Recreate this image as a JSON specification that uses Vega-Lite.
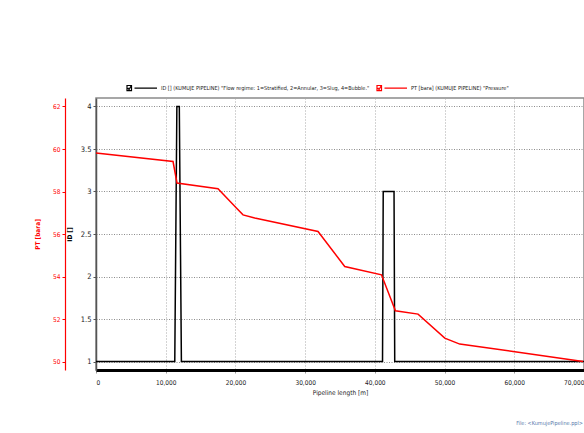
{
  "$schema": "https://vega.github.io/schema/vega-lite/v6.json",
  "width": 488,
  "height": 272,
  "autosize": {"type": "none"},
  "padding": {"left": 96, "top": 98, "right": 0, "bottom": 63},
  "background": "white",
  "config": {
    "font": "DejaVu Sans Condensed, DejaVu Sans, sans-serif",
    "view": {"stroke": "#8a8a8a", "strokeWidth": 1.5},
    "axis": {"labelFont": "DejaVu Sans Condensed, DejaVu Sans, sans-serif", "titleFont": "DejaVu Sans Condensed, DejaVu Sans, sans-serif"}
  },
  "title": {
    "text": "File: <KumujePipeline.ppl>",
    "orient": "bottom",
    "anchor": "end",
    "fontSize": 5.5,
    "fontWeight": "normal",
    "color": "#5577aa",
    "offset": 25,
    "dx": -4
  },
  "datasets": {
    "regime": [
      {"length": 0, "regime": 1, "series": "ID [] (KUMUJE PIPELINE) \"Flow regime: 1=Stratified, 2=Annular, 3=Slug, 4=Bubble.\""},
      {"length": 11300, "regime": 1, "series": "ID [] (KUMUJE PIPELINE) \"Flow regime: 1=Stratified, 2=Annular, 3=Slug, 4=Bubble.\""},
      {"length": 11600, "regime": 4, "series": "ID [] (KUMUJE PIPELINE) \"Flow regime: 1=Stratified, 2=Annular, 3=Slug, 4=Bubble.\""},
      {"length": 11950, "regime": 4, "series": "ID [] (KUMUJE PIPELINE) \"Flow regime: 1=Stratified, 2=Annular, 3=Slug, 4=Bubble.\""},
      {"length": 12250, "regime": 1, "series": "ID [] (KUMUJE PIPELINE) \"Flow regime: 1=Stratified, 2=Annular, 3=Slug, 4=Bubble.\""},
      {"length": 41100, "regime": 1, "series": "ID [] (KUMUJE PIPELINE) \"Flow regime: 1=Stratified, 2=Annular, 3=Slug, 4=Bubble.\""},
      {"length": 41200, "regime": 3, "series": "ID [] (KUMUJE PIPELINE) \"Flow regime: 1=Stratified, 2=Annular, 3=Slug, 4=Bubble.\""},
      {"length": 42750, "regime": 3, "series": "ID [] (KUMUJE PIPELINE) \"Flow regime: 1=Stratified, 2=Annular, 3=Slug, 4=Bubble.\""},
      {"length": 42850, "regime": 1, "series": "ID [] (KUMUJE PIPELINE) \"Flow regime: 1=Stratified, 2=Annular, 3=Slug, 4=Bubble.\""},
      {"length": 70000, "regime": 1, "series": "ID [] (KUMUJE PIPELINE) \"Flow regime: 1=Stratified, 2=Annular, 3=Slug, 4=Bubble.\""}
    ],
    "pressure": [
      {"length": 0, "pressure": 59.81, "series": "PT [bara] (KUMUJE PIPELINE) \"Pressure\""},
      {"length": 11050, "pressure": 59.41, "series": "PT [bara] (KUMUJE PIPELINE) \"Pressure\""},
      {"length": 11620, "pressure": 58.4, "series": "PT [bara] (KUMUJE PIPELINE) \"Pressure\""},
      {"length": 17500, "pressure": 58.13, "series": "PT [bara] (KUMUJE PIPELINE) \"Pressure\""},
      {"length": 20140, "pressure": 57.22, "series": "PT [bara] (KUMUJE PIPELINE) \"Pressure\""},
      {"length": 21090, "pressure": 56.9, "series": "PT [bara] (KUMUJE PIPELINE) \"Pressure\""},
      {"length": 22770, "pressure": 56.75, "series": "PT [bara] (KUMUJE PIPELINE) \"Pressure\""},
      {"length": 31850, "pressure": 56.12, "series": "PT [bara] (KUMUJE PIPELINE) \"Pressure\""},
      {"length": 35680, "pressure": 54.47, "series": "PT [bara] (KUMUJE PIPELINE) \"Pressure\""},
      {"length": 40950, "pressure": 54.08, "series": "PT [bara] (KUMUJE PIPELINE) \"Pressure\""},
      {"length": 42950, "pressure": 52.39, "series": "PT [bara] (KUMUJE PIPELINE) \"Pressure\""},
      {"length": 46200, "pressure": 52.23, "series": "PT [bara] (KUMUJE PIPELINE) \"Pressure\""},
      {"length": 50030, "pressure": 51.1, "series": "PT [bara] (KUMUJE PIPELINE) \"Pressure\""},
      {"length": 52180, "pressure": 50.82, "series": "PT [bara] (KUMUJE PIPELINE) \"Pressure\""},
      {"length": 59830, "pressure": 50.47, "series": "PT [bara] (KUMUJE PIPELINE) \"Pressure\""},
      {"length": 69870, "pressure": 50.0, "series": "PT [bara] (KUMUJE PIPELINE) \"Pressure\""}
    ]
  },
  "layer": [
    {
      "data": {"name": "regime"},
      "mark": {"type": "line", "strokeWidth": 1.5},
      "encoding": {
        "x": {
          "field": "length",
          "type": "quantitative",
          "scale": {"domain": [0, 70000], "nice": false},
          "axis": {
            "values": [0, 10000, 20000, 30000, 40000, 50000, 60000, 70000],
            "format": ",d",
            "title": "Pipeline length [m]",
            "titleFontSize": 6.5,
            "titleFontWeight": "normal",
            "titleColor": "#222",
            "titlePadding": 4,
            "labelFontSize": 6.5,
            "labelColor": "#222",
            "labelPadding": 6,
            "domainColor": "#000000",
            "domainWidth": 3,
            "tickColor": "#999",
            "tickSize": 3,
            "grid": true,
            "gridColor": "#a8a8a8",
            "gridDash": [1, 2],
            "gridWidth": 1
          }
        },
        "y": {
          "field": "regime",
          "type": "quantitative",
          "scale": {"domain": [0.9, 4.1], "nice": false, "zero": false},
          "axis": {
            "orient": "left",
            "values": [1, 1.5, 2, 2.5, 3, 3.5, 4],
            "format": "~g",
            "title": "ID []",
            "titleFontSize": 6.5,
            "titleFontWeight": "bold",
            "titleColor": "#000",
            "titlePadding": 8,
            "labelFontSize": 7.5,
            "labelColor": "#222",
            "labelPadding": 2,
            "domainColor": "#555",
            "domainWidth": 1.5,
            "tickColor": "#555",
            "tickSize": 3,
            "grid": true,
            "gridColor": "#8c8c8c",
            "gridDash": [1, 1.5],
            "gridWidth": 1
          }
        },
        "color": {
          "field": "series",
          "type": "nominal",
          "scale": {
            "domain": [
              "ID [] (KUMUJE PIPELINE) \"Flow regime: 1=Stratified, 2=Annular, 3=Slug, 4=Bubble.\"",
              "PT [bara] (KUMUJE PIPELINE) \"Pressure\""
            ],
            "range": ["#000000", "#ff0000"]
          },
          "legend": {
            "orient": "none",
            "legendX": 30,
            "legendY": -26,
            "direction": "horizontal",
            "title": null,
            "symbolType": "M-1,-0.17L-0.7,-0.17L-0.7,0.17L-1,0.17ZM-0.95,0L-0.86,0.1L-0.74,-0.12M-0.5,0L1,0",
            "symbolSize": 900,
            "symbolStrokeWidth": 1.2,
            "labelFontSize": 5.5,
            "labelFont": "DejaVu Sans Condensed, DejaVu Sans, sans-serif",
            "labelColor": "#222",
            "labelLimit": 400,
            "labelOffset": 3,
            "columnPadding": 4,
            "encode": {"symbols": {"update": {"fill": {"value": "white"}, "fillOpacity": {"value": 1}}}}
          }
        }
      }
    },
    {
      "data": {"name": "pressure"},
      "mark": {"type": "line", "strokeWidth": 1.5},
      "encoding": {
        "x": {"field": "length", "type": "quantitative"},
        "y": {
          "field": "pressure",
          "type": "quantitative",
          "scale": {"domain": [49.6, 62.4], "nice": false, "zero": false},
          "axis": {
            "orient": "left",
            "offset": 31,
            "values": [50, 52, 54, 56, 58, 60, 62],
            "title": "PT [bara]",
            "titleFontSize": 6.5,
            "titleFontWeight": "bold",
            "titleColor": "#ff0000",
            "titlePadding": 12,
            "labelFontSize": 6.5,
            "labelColor": "#ff0000",
            "labelPadding": 2,
            "domainColor": "#ff0000",
            "domainWidth": 1.2,
            "tickColor": "#ff0000",
            "tickSize": 3,
            "grid": false
          }
        },
        "color": {"field": "series", "type": "nominal"}
      }
    }
  ],
  "resolve": {"scale": {"y": "independent"}, "axis": {"y": "independent"}}
}
